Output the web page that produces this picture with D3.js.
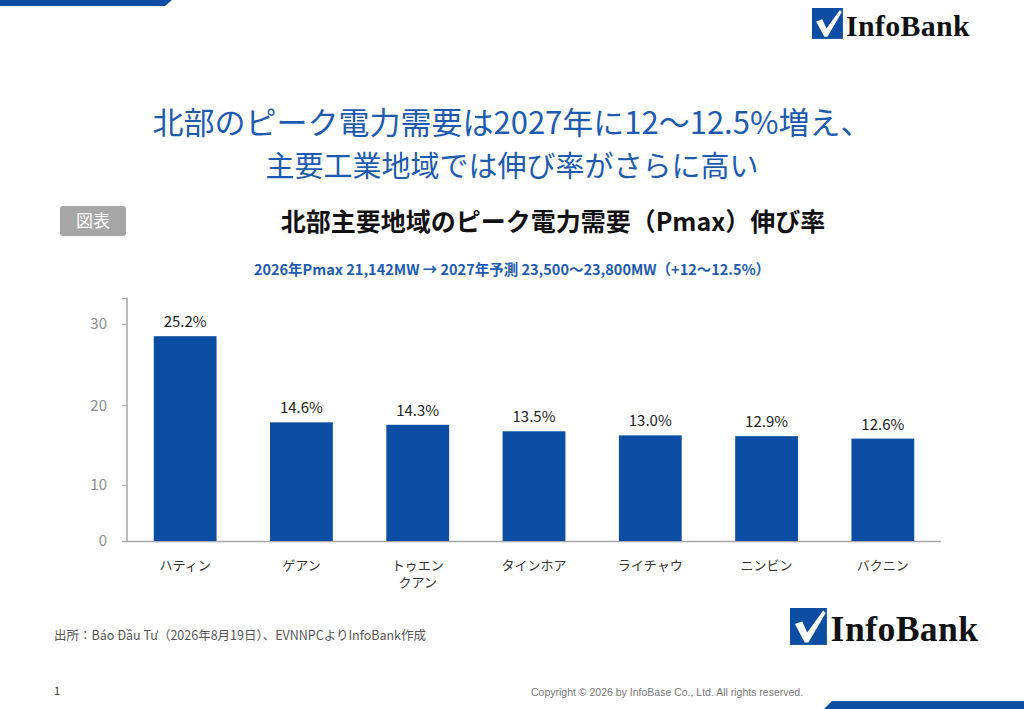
<!DOCTYPE html>
<html><head><meta charset="utf-8">
<script src="https://cdn.jsdelivr.net/npm/d3@7"></script>
<style>body{margin:0;background:#fff}</style></head>
<body><svg id="c" width="1024" height="709"></svg>
<script>
const categories=["ハティン","ゲアン","トゥエン|クアン","タインホア","ライチャウ","ニンビン","バクニン"];
const values=[25.2,14.6,14.3,13.5,13.0,12.9,12.6];
const tickLabels=["0","10","20","30"];
const tickPositions=[0,6.9,16.7,26.7];

const svg=d3.select("#c");
const JP="'Noto Sans CJK JP','Noto Sans',sans-serif";
const blue="#0A4DA2";
svg.append("path").attr("d","M0,0H172L165,6H0Z").attr("fill","#0A4DA2");
svg.append("path").attr("d","M824,709L832,701H1024V709Z").attr("fill","#0A4DA2");

function logo(x,y,s){
  const g=svg.append("g").attr("transform",`translate(${x},${y}) scale(${s})`);
  g.append("rect").attr("width",30).attr("height",30).attr("fill","#0A4DA2");
  g.append("path").attr("d","M4,13L10,11L14,20L27,2L29,4L15,28L12,28Z").attr("fill","#fff");
  g.append("text").attr("x",33).attr("y",27).attr("font-family","'Liberation Serif',serif").attr("font-weight","bold").attr("font-size",29).attr("fill","#111").attr("textLength",120).text("InfoBank");
}
logo(812,8,1.03);
logo(790,608,1.23);

svg.append("text").attr("x",512).attr("y",134).attr("text-anchor","middle").attr("font-family",JP).attr("font-size",31).attr("fill","#1D5BB0").text("北部のピーク電力需要は2027年に12～12.5%増え、");
svg.append("text").attr("x",512).attr("y",177).attr("text-anchor","middle").attr("font-family",JP).attr("font-size",29).attr("fill","#1D5BB0").text("主要工業地域では伸び率がさらに高い");

svg.append("rect").attr("x",60).attr("y",206).attr("width",66).attr("height",30).attr("rx",3).attr("fill","#A6A6A6");
svg.append("text").attr("x",93).attr("y",227).attr("text-anchor","middle").attr("font-family",JP).attr("font-size",17).attr("fill","#fff").text("図表");
svg.append("text").attr("x",553).attr("y",231).attr("text-anchor","middle").attr("font-family",JP).attr("font-weight","bold").attr("font-size",25).attr("fill","#111").text("北部主要地域のピーク電力需要（Pmax）伸び率");
svg.append("text").attr("x",512).attr("y",275).attr("text-anchor","middle").attr("font-family",JP).attr("font-weight","bold").attr("font-size",14.5).attr("fill","#1D5BB0").text("2026年Pmax 21,142MW → 2027年予測 23,500～23,800MW（+12～12.5%）");

const x=d3.scaleBand().domain(categories).range([127,941]).paddingInner(0.46).paddingOuter(0.23);
const y=d3.scaleLinear().domain([0,29.9]).range([541,298]);

const ya=svg.append("g").attr("transform","translate(127,0)")
 .call(d3.axisLeft(y).tickValues(tickPositions).tickSize(5).tickFormat((d,i)=>tickLabels[i]));
ya.select(".domain").attr("stroke","#A6A6A6").attr("stroke-width",1.5).attr("d","M-5,298.5H0V541");
ya.selectAll("line").attr("stroke","#A6A6A6");
ya.selectAll("text").attr("font-family",JP).attr("font-size",15).attr("fill","#8C8C8C").attr("x",-20);

svg.append("line").attr("x1",122).attr("x2",941).attr("y1",541.5).attr("y2",541.5).attr("stroke","#A6A6A6").attr("stroke-width",1.5);

svg.selectAll(".bar").data(values).join("rect").attr("x",(d,i)=>x(categories[i])).attr("width",x.bandwidth())
 .attr("y",d=>y(d)).attr("height",d=>541-y(d)).attr("fill",blue);
svg.selectAll(".vl").data(values).join("text").attr("x",(d,i)=>x(categories[i])+x.bandwidth()/2).attr("y",d=>y(d)-9)
 .attr("text-anchor","middle").attr("font-family",JP).attr("font-size",15).attr("fill","#222").text(d=>d.toFixed(1)+"%");
categories.forEach(c=>{
  const t=svg.append("text").attr("x",x(c)+x.bandwidth()/2).attr("y",570).attr("text-anchor","middle").attr("font-family",JP).attr("font-size",13).attr("fill","#333");
  c.split("|").forEach((s,i)=>t.append("tspan").attr("x",x(c)+x.bandwidth()/2).attr("dy",i?17:0).text(s));
});

svg.append("text").attr("x",54).attr("y",640).attr("font-family",JP).attr("font-size",12.5).attr("fill","#555").text("出所：Báo Đầu Tư（2026年8月19日）、EVNNPCよりInfoBank作成");
svg.append("text").attr("x",54).attr("y",695).attr("font-family",JP).attr("font-size",11).attr("fill","#333").text("1");
svg.append("text").attr("x",531).attr("y",696).attr("font-family","'Liberation Sans',sans-serif").attr("font-size",10.5).attr("fill","#777").text("Copyright © 2026 by InfoBase Co., Ltd. All rights reserved.");
</script></body></html>
